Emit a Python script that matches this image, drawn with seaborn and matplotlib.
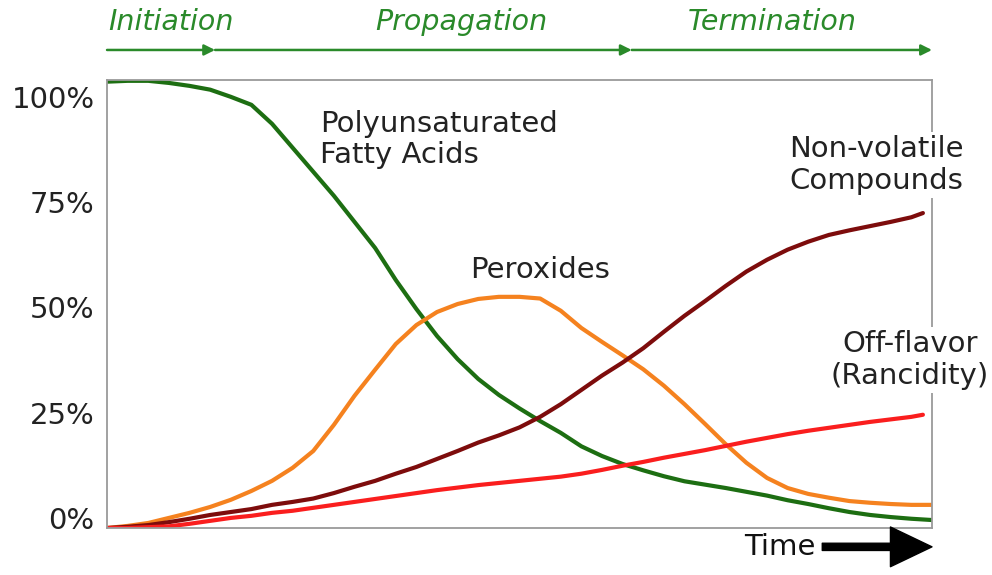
import matplotlib
matplotlib.use("Agg")
import matplotlib.pyplot as plt
import pandas as pd
import seaborn as sns

# time in arbitrary units (0..100), values in percent
time_long = [0, 2.5, 5, 7.5, 10, 12.5, 15, 17.5, 20, 22.5, 25, 27.5, 30, 32.5,
             35, 37.5, 40, 42.5, 45, 47.5, 50, 52.5, 55, 57.5, 60, 62.5, 65,
             67.5, 70, 72.5, 75, 77.5, 80, 82.5, 85, 87.5, 90, 92.5, 95, 97.5, 100]
time_short = time_long[:-1] + [98.9]

pufa = [103.6, 103.8, 103.8, 103.3, 102.6, 101.7, 100.0, 98.1, 93.6, 87.9,
        82.2, 76.5, 70.3, 64.1, 56.5, 49.6, 43.2, 37.7, 33.0, 29.2, 26.0,
        23.0, 20.2, 17.0, 14.7, 12.8, 11.3, 9.9, 8.7, 7.9, 7.1, 6.2, 5.3,
        4.2, 3.3, 2.3, 1.4, 0.7, 0.2, -0.2, -0.5]
peroxides = [-2.4, -1.9, -1.2, 0.0, 1.2, 2.6, 4.3, 6.4, 8.8, 11.9, 15.9, 22.1,
             29.0, 35.2, 41.3, 45.8, 48.9, 50.8, 52.0, 52.5, 52.5, 52.1, 49.2,
             45.1, 41.8, 38.6, 35.3, 31.4, 27.0, 22.3, 17.5, 13.1, 9.5, 7.1,
             5.7, 4.8, 4.0, 3.6, 3.3, 3.1, 3.1]
nonvolatile = [-2.4, -2.1, -1.7, -1.0, -0.2, 0.7, 1.4, 2.1, 3.1, 3.8, 4.6, 5.9,
               7.4, 8.8, 10.5, 12.1, 14.0, 15.9, 17.9, 19.6, 21.5, 24.0, 27.0,
               30.4, 33.8, 36.9, 40.3, 44.2, 48.0, 51.5, 55.1, 58.5, 61.3, 63.7,
               65.6, 67.2, 68.3, 69.3, 70.3, 71.4, 72.4]
offflavor = [-2.4, -2.4, -2.2, -2.0, -1.4, -0.7, 0.0, 0.5, 1.2, 1.7, 2.4, 3.1,
             3.8, 4.5, 5.2, 5.9, 6.6, 7.2, 7.8, 8.3, 8.8, 9.3, 9.8, 10.5, 11.4,
             12.4, 13.3, 14.3, 15.2, 16.1, 17.1, 18.1, 19.0, 19.9, 20.7, 21.4,
             22.1, 22.8, 23.4, 24.0, 24.5]

series_names = ["pufa", "peroxides", "nonvolatile", "offflavor"]
colors = {"pufa": "#1d6e12", "peroxides": "#f5821f",
          "nonvolatile": "#7d0c0c", "offflavor": "#fa1e1e"}
ytick_vals = [0, 25, 50, 75, 100]
ytick_labels = ["0%", "25%", "50%", "75%", "100%"]
phases = ["Initiation", "Propagation", "Termination"]

frames = []
for name, t, v in [("pufa", time_long, pufa), ("peroxides", time_long, peroxides),
                   ("nonvolatile", time_short, nonvolatile),
                   ("offflavor", time_short, offflavor)]:
    frames.append(pd.DataFrame({"time": t, "pct": v, "series": name}))
long_df = pd.concat(frames, ignore_index=True)

sns.set_style("white")
plt.rcParams["font.family"] = ["DejaVu Sans"]

fig = plt.figure(figsize=(9.92, 5.75), dpi=100)
ax = fig.add_axes([0.1079, 0.0817, 0.8316, 0.7792])

sns.lineplot(data=long_df, x="time", y="pct", hue="series", palette=colors,
             hue_order=series_names, linewidth=3, legend=False, ax=ax,
             sort=False, solid_capstyle="round", solid_joinstyle="round")

ax.set_xlim(0, 100)
ax.set_ylim(-2.4, 104)
ax.set_xticks([])
ax.set_yticks(ytick_vals)
ax.set_yticklabels(ytick_labels)
ax.tick_params(axis="y", length=0, pad=9, labelsize=21, labelcolor="#222222")
ax.set_xlabel("")
ax.set_ylabel("")
for sp in ax.spines.values():
    sp.set_visible(True)
    sp.set_color("#9a9a9a")
    sp.set_linewidth(1.3)

txt_kw = dict(fontsize=21, color="#222222", linespacing=1.15, zorder=5)
ax.text(25.8, 89.8, "Polyunsaturated\nFatty Acids", ha="left", va="center", **txt_kw)
ax.text(52.5, 58.9, "Peroxides", ha="center", va="center", **txt_kw)
ax.text(93.3, 83.8, "Non-volatile\nCompounds", ha="center", va="center",
        bbox=dict(facecolor="white", edgecolor="none", pad=2), clip_on=False, **txt_kw)
ax.text(97.3, 37.5, "Off-flavor\n(Rancidity)", ha="center", va="center",
        bbox=dict(facecolor="white", edgecolor="none", pad=2), clip_on=False, **txt_kw)

# phase arrows along the top
green = "#2a8a2a"
stops = [0.0, 0.131, 0.636, 1.0]
for a, b in zip(stops[:-1], stops[1:]):
    ax.annotate("", xy=(b, 1.067), xytext=(a, 1.067), xycoords="axes fraction",
                arrowprops=dict(arrowstyle="-|>", color=green, lw=1.8,
                                mutation_scale=16, shrinkA=0, shrinkB=0),
                annotation_clip=False)
phase_pos = [(0.001, "left"), (0.430, "center"), (0.807, "center")]
for name, (px, ha) in zip(phases, phase_pos):
    ax.text(px, 1.129, name, transform=ax.transAxes, ha=ha, va="center",
            fontsize=20.5, style="italic", color=green)

# time arrow
ax.text(0.859, -0.042, "Time", transform=ax.transAxes, ha="right", va="center",
        fontsize=21, color="#111111")
ax.annotate("", xy=(1.0, -0.042), xytext=(0.867, -0.042), xycoords="axes fraction",
            arrowprops=dict(arrowstyle="simple,head_length=1.15,head_width=1.1,tail_width=0.2",
                            color="black", mutation_scale=26, shrinkA=0, shrinkB=0),
            annotation_clip=False)

fig.savefig("out.png", dpi=100)
